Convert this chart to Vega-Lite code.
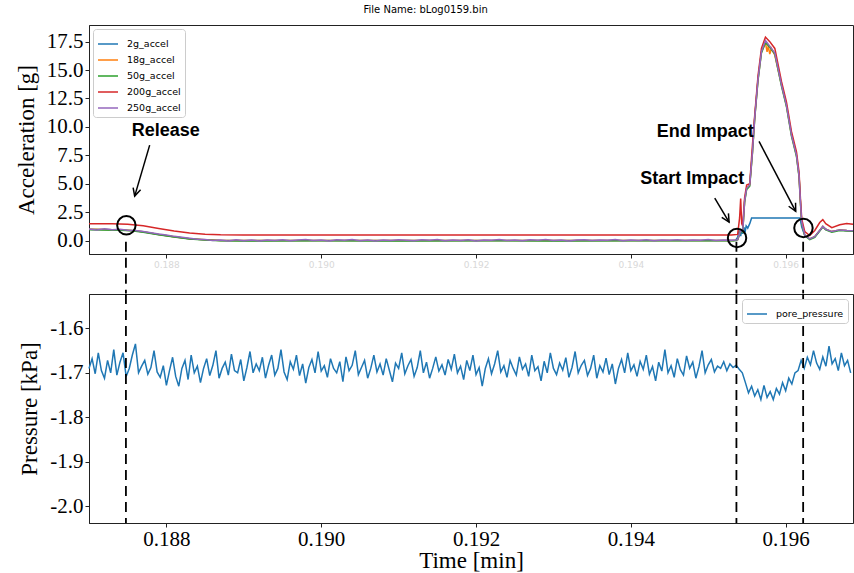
{
"$schema": "https://vega.github.io/schema/vega-lite/v6.json",
"padding": {"left": 14, "top": 4, "right": 0, "bottom": 0},
"title": {"text": "File Name: bLog0159.bin", "font": "DejaVu Sans", "fontSize": 10, "fontWeight": "normal", "color": "black", "anchor": "middle", "offset": 10, "dx": -10},
"config": {
  "view": {"stroke": "#222", "strokeWidth": 1},
  "axis": {"labelFont": "Liberation Serif", "labelFontSize": 21, "titleFont": "Liberation Serif", "titleFontSize": 23, "titleFontWeight": "normal", "labelColor": "black", "titleColor": "black", "domainColor": "#222", "tickColor": "#222", "tickSize": 4, "labelPadding": 2, "grid": false, "labelFlush": false, "labelOverlap": false, "titlePadding": 8}
},
"spacing": 40,
"bounds": "flush",
"resolve": {"scale": {"color": "independent"}, "legend": {"color": "independent"}},
"datasets": {
  "accel": [
    {"t":0.187,"s":"2g_accel","a":1.0},{"t":0.1872,"s":"2g_accel","a":0.98},{"t":0.1874,"s":"2g_accel","a":0.95},{"t":0.18755,"s":"2g_accel","a":0.9},{"t":0.1877,"s":"2g_accel","a":0.78},{"t":0.1879,"s":"2g_accel","a":0.55},{"t":0.1881,"s":"2g_accel","a":0.35},{"t":0.1883,"s":"2g_accel","a":0.18},{"t":0.1885,"s":"2g_accel","a":0.08},{"t":0.1887,"s":"2g_accel","a":0.02},{"t":0.189,"s":"2g_accel","a":0.01},{"t":0.19,"s":"2g_accel","a":0.02},{"t":0.191,"s":"2g_accel","a":0.01},{"t":0.192,"s":"2g_accel","a":0.02},{"t":0.193,"s":"2g_accel","a":0.01},{"t":0.194,"s":"2g_accel","a":0.02},{"t":0.19533,"s":"2g_accel","a":0.02},
    {"t":0.195355,"s":"2g_accel","a":0.05},{"t":0.19538,"s":"2g_accel","a":0.3},{"t":0.1954,"s":"2g_accel","a":0.9},{"t":0.195419,"s":"2g_accel","a":0.4},{"t":0.195432,"s":"2g_accel","a":1.0},{"t":0.195445,"s":"2g_accel","a":0.6},{"t":0.19546,"s":"2g_accel","a":1.2},{"t":0.195475,"s":"2g_accel","a":0.7},{"t":0.19549,"s":"2g_accel","a":1.3},{"t":0.19551,"s":"2g_accel","a":1.1},{"t":0.195536,"s":"2g_accel","a":1.5},{"t":0.19556,"s":"2g_accel","a":2.0},{"t":0.196185,"s":"2g_accel","a":2.0},{"t":0.196208,"s":"2g_accel","a":1.2},{"t":0.196247,"s":"2g_accel","a":0.45},{"t":0.196311,"s":"2g_accel","a":0.15},{"t":0.196376,"s":"2g_accel","a":0.35},{"t":0.19644,"s":"2g_accel","a":0.9},{"t":0.19648,"s":"2g_accel","a":1.25},{"t":0.196518,"s":"2g_accel","a":1.0},{"t":0.196596,"s":"2g_accel","a":0.8},{"t":0.196699,"s":"2g_accel","a":0.95},{"t":0.196789,"s":"2g_accel","a":0.9},{"t":0.19687,"s":"2g_accel","a":0.88},

    {"t":0.187,"s":"18g_accel","a":1.0},{"t":0.1872,"s":"18g_accel","a":0.98},{"t":0.1874,"s":"18g_accel","a":0.95},{"t":0.18755,"s":"18g_accel","a":0.9},{"t":0.1877,"s":"18g_accel","a":0.78},{"t":0.1879,"s":"18g_accel","a":0.55},{"t":0.1881,"s":"18g_accel","a":0.35},{"t":0.1883,"s":"18g_accel","a":0.18},{"t":0.1885,"s":"18g_accel","a":0.08},{"t":0.1887,"s":"18g_accel","a":0.02},{"t":0.189,"s":"18g_accel","a":0.01},{"t":0.19,"s":"18g_accel","a":0.02},{"t":0.191,"s":"18g_accel","a":0.01},{"t":0.192,"s":"18g_accel","a":0.02},{"t":0.193,"s":"18g_accel","a":0.01},{"t":0.194,"s":"18g_accel","a":0.02},{"t":0.19533,"s":"18g_accel","a":0.02},
    {"t":0.195355,"s":"18g_accel","a":0.05},{"t":0.19538,"s":"18g_accel","a":0.1},{"t":0.195419,"s":"18g_accel","a":0.9},{"t":0.195445,"s":"18g_accel","a":0.8},{"t":0.19547,"s":"18g_accel","a":3.5},{"t":0.195496,"s":"18g_accel","a":4.6},{"t":0.195536,"s":"18g_accel","a":4.9},{"t":0.195571,"s":"18g_accel","a":7.8},{"t":0.1956,"s":"18g_accel","a":10.8},{"t":0.195643,"s":"18g_accel","a":14.2},{"t":0.195687,"s":"18g_accel","a":16.6},{"t":0.195739,"s":"18g_accel","a":17.4},{"t":0.19576,"s":"18g_accel","a":16.6},{"t":0.195775,"s":"18g_accel","a":17.1},{"t":0.195795,"s":"18g_accel","a":16.4},{"t":0.195815,"s":"18g_accel","a":16.9},{"t":0.19586,"s":"18g_accel","a":16.3},{"t":0.195946,"s":"18g_accel","a":13.7},{"t":0.19601,"s":"18g_accel","a":11.9},{"t":0.196075,"s":"18g_accel","a":9.3},{"t":0.19614,"s":"18g_accel","a":7.5},{"t":0.196173,"s":"18g_accel","a":5.7},{"t":0.196191,"s":"18g_accel","a":3.4},{"t":0.196208,"s":"18g_accel","a":1.6},{"t":0.196247,"s":"18g_accel","a":0.5},{"t":0.196311,"s":"18g_accel","a":0.15},{"t":0.196376,"s":"18g_accel","a":0.35},{"t":0.19644,"s":"18g_accel","a":0.9},{"t":0.19648,"s":"18g_accel","a":1.25},{"t":0.196518,"s":"18g_accel","a":1.0},{"t":0.196596,"s":"18g_accel","a":0.8},{"t":0.196699,"s":"18g_accel","a":0.95},{"t":0.196789,"s":"18g_accel","a":0.9},{"t":0.19687,"s":"18g_accel","a":0.88},

    {"t":0.187,"s":"50g_accel","a":0.97},{"t":0.1872,"s":"50g_accel","a":0.95},{"t":0.1874,"s":"50g_accel","a":0.92},{"t":0.18755,"s":"50g_accel","a":0.87},{"t":0.1877,"s":"50g_accel","a":0.75},{"t":0.1879,"s":"50g_accel","a":0.52},{"t":0.1881,"s":"50g_accel","a":0.32},{"t":0.1883,"s":"50g_accel","a":0.15},{"t":0.1885,"s":"50g_accel","a":0.05},{"t":0.1887,"s":"50g_accel","a":-0.01},{"t":0.189,"s":"50g_accel","a":-0.02},{"t":0.19,"s":"50g_accel","a":-0.01},{"t":0.191,"s":"50g_accel","a":-0.02},{"t":0.192,"s":"50g_accel","a":-0.01},{"t":0.193,"s":"50g_accel","a":-0.02},{"t":0.194,"s":"50g_accel","a":-0.01},{"t":0.19533,"s":"50g_accel","a":-0.01},
    {"t":0.195355,"s":"50g_accel","a":0.02},{"t":0.19538,"s":"50g_accel","a":0.08},{"t":0.195419,"s":"50g_accel","a":0.85},{"t":0.195445,"s":"50g_accel","a":0.75},{"t":0.19547,"s":"50g_accel","a":3.4},{"t":0.195496,"s":"50g_accel","a":4.5},{"t":0.195536,"s":"50g_accel","a":4.8},{"t":0.195571,"s":"50g_accel","a":7.7},{"t":0.1956,"s":"50g_accel","a":10.7},{"t":0.195643,"s":"50g_accel","a":14.1},{"t":0.195687,"s":"50g_accel","a":16.5},{"t":0.195739,"s":"50g_accel","a":17.4},{"t":0.195795,"s":"50g_accel","a":17.0},{"t":0.19586,"s":"50g_accel","a":16.4},{"t":0.195946,"s":"50g_accel","a":13.6},{"t":0.19601,"s":"50g_accel","a":11.8},{"t":0.196075,"s":"50g_accel","a":9.2},{"t":0.19614,"s":"50g_accel","a":7.4},{"t":0.196173,"s":"50g_accel","a":5.6},{"t":0.196191,"s":"50g_accel","a":3.3},{"t":0.196208,"s":"50g_accel","a":1.5},{"t":0.196247,"s":"50g_accel","a":0.45},{"t":0.196311,"s":"50g_accel","a":0.1},{"t":0.196376,"s":"50g_accel","a":0.3},{"t":0.19644,"s":"50g_accel","a":0.85},{"t":0.19648,"s":"50g_accel","a":1.2},{"t":0.196518,"s":"50g_accel","a":0.95},{"t":0.196596,"s":"50g_accel","a":0.75},{"t":0.196699,"s":"50g_accel","a":0.9},{"t":0.196789,"s":"50g_accel","a":0.85},{"t":0.19687,"s":"50g_accel","a":0.83},

    {"t":0.187,"s":"200g_accel","a":1.5},{"t":0.1873,"s":"200g_accel","a":1.5},{"t":0.1875,"s":"200g_accel","a":1.45},{"t":0.1877,"s":"200g_accel","a":1.32},{"t":0.1879,"s":"200g_accel","a":1.08},{"t":0.1881,"s":"200g_accel","a":0.85},{"t":0.1883,"s":"200g_accel","a":0.68},{"t":0.1885,"s":"200g_accel","a":0.57},{"t":0.1887,"s":"200g_accel","a":0.52},{"t":0.189,"s":"200g_accel","a":0.5},{"t":0.1953,"s":"200g_accel","a":0.5},
    {"t":0.19538,"s":"200g_accel","a":0.55},{"t":0.195405,"s":"200g_accel","a":2.0},{"t":0.195419,"s":"200g_accel","a":3.7},{"t":0.195432,"s":"200g_accel","a":1.5},{"t":0.195445,"s":"200g_accel","a":1.3},{"t":0.19547,"s":"200g_accel","a":3.8},{"t":0.195496,"s":"200g_accel","a":4.9},{"t":0.195536,"s":"200g_accel","a":5.0},{"t":0.195571,"s":"200g_accel","a":8.4},{"t":0.1956,"s":"200g_accel","a":11.0},{"t":0.195643,"s":"200g_accel","a":14.5},{"t":0.195687,"s":"200g_accel","a":16.9},{"t":0.195739,"s":"200g_accel","a":17.9},{"t":0.195795,"s":"200g_accel","a":17.5},{"t":0.19586,"s":"200g_accel","a":16.9},{"t":0.195946,"s":"200g_accel","a":14.0},{"t":0.19601,"s":"200g_accel","a":12.2},{"t":0.196075,"s":"200g_accel","a":9.6},{"t":0.19614,"s":"200g_accel","a":7.8},{"t":0.196173,"s":"200g_accel","a":6.0},{"t":0.196191,"s":"200g_accel","a":3.7},{"t":0.196208,"s":"200g_accel","a":1.9},{"t":0.196247,"s":"200g_accel","a":0.8},{"t":0.196311,"s":"200g_accel","a":0.45},{"t":0.196376,"s":"200g_accel","a":0.9},{"t":0.19644,"s":"200g_accel","a":1.6},{"t":0.19648,"s":"200g_accel","a":1.85},{"t":0.196518,"s":"200g_accel","a":1.5},{"t":0.196596,"s":"200g_accel","a":1.15},{"t":0.196699,"s":"200g_accel","a":1.4},{"t":0.196789,"s":"200g_accel","a":1.5},{"t":0.19687,"s":"200g_accel","a":1.45},

    {"t":0.187,"s":"250g_accel","a":1.02},{"t":0.1871,"s":"250g_accel","a":0.95},{"t":0.1872,"s":"250g_accel","a":1.05},{"t":0.1873,"s":"250g_accel","a":0.97},{"t":0.1874,"s":"250g_accel","a":1.0},{"t":0.1875,"s":"250g_accel","a":0.92},{"t":0.1876,"s":"250g_accel","a":0.9},{"t":0.1877,"s":"250g_accel","a":0.8},{"t":0.1878,"s":"250g_accel","a":0.7},{"t":0.1879,"s":"250g_accel","a":0.58},{"t":0.188,"s":"250g_accel","a":0.5},{"t":0.1881,"s":"250g_accel","a":0.38},{"t":0.1882,"s":"250g_accel","a":0.3},{"t":0.1883,"s":"250g_accel","a":0.22},{"t":0.1884,"s":"250g_accel","a":0.12},{"t":0.1885,"s":"250g_accel","a":0.1},{"t":0.1886,"s":"250g_accel","a":0.02},{"t":0.1887,"s":"250g_accel","a":0.05},{"t":0.1888,"s":"250g_accel","a":-0.02},{"t":0.1889,"s":"250g_accel","a":0.08},
    {"t":0.189,"s":"250g_accel","a":0.0},{"t":0.1891,"s":"250g_accel","a":0.06},{"t":0.1892,"s":"250g_accel","a":-0.03},{"t":0.1893,"s":"250g_accel","a":0.07},{"t":0.1894,"s":"250g_accel","a":0.02},{"t":0.1895,"s":"250g_accel","a":0.09},{"t":0.1896,"s":"250g_accel","a":-0.01},{"t":0.1897,"s":"250g_accel","a":0.05},{"t":0.1898,"s":"250g_accel","a":0.1},{"t":0.1899,"s":"250g_accel","a":0.01},
    {"t":0.19,"s":"250g_accel","a":0.06},{"t":0.1901,"s":"250g_accel","a":-0.02},{"t":0.1902,"s":"250g_accel","a":0.08},{"t":0.1903,"s":"250g_accel","a":0.03},{"t":0.1904,"s":"250g_accel","a":0.11},{"t":0.1905,"s":"250g_accel","a":0.0},{"t":0.1906,"s":"250g_accel","a":0.05},{"t":0.1907,"s":"250g_accel","a":-0.03},{"t":0.1908,"s":"250g_accel","a":0.07},{"t":0.1909,"s":"250g_accel","a":0.02},
    {"t":0.191,"s":"250g_accel","a":0.09},{"t":0.1911,"s":"250g_accel","a":0.04},{"t":0.1912,"s":"250g_accel","a":-0.01},{"t":0.1913,"s":"250g_accel","a":0.08},{"t":0.1914,"s":"250g_accel","a":0.03},{"t":0.1915,"s":"250g_accel","a":0.1},{"t":0.1916,"s":"250g_accel","a":0.0},{"t":0.1917,"s":"250g_accel","a":0.06},{"t":0.1918,"s":"250g_accel","a":0.02},{"t":0.1919,"s":"250g_accel","a":0.09},
    {"t":0.192,"s":"250g_accel","a":-0.02},{"t":0.1921,"s":"250g_accel","a":0.07},{"t":0.1922,"s":"250g_accel","a":0.04},{"t":0.1923,"s":"250g_accel","a":0.11},{"t":0.1924,"s":"250g_accel","a":0.01},{"t":0.1925,"s":"250g_accel","a":0.06},{"t":0.1926,"s":"250g_accel","a":-0.01},{"t":0.1927,"s":"250g_accel","a":0.08},{"t":0.1928,"s":"250g_accel","a":0.03},{"t":0.1929,"s":"250g_accel","a":0.1},
    {"t":0.193,"s":"250g_accel","a":0.02},{"t":0.1931,"s":"250g_accel","a":0.07},{"t":0.1932,"s":"250g_accel","a":-0.02},{"t":0.1933,"s":"250g_accel","a":0.05},{"t":0.1934,"s":"250g_accel","a":0.09},{"t":0.1935,"s":"250g_accel","a":0.01},{"t":0.1936,"s":"250g_accel","a":0.06},{"t":0.1937,"s":"250g_accel","a":0.03},{"t":0.1938,"s":"250g_accel","a":0.1},{"t":0.1939,"s":"250g_accel","a":0.0},
    {"t":0.194,"s":"250g_accel","a":0.07},{"t":0.1941,"s":"250g_accel","a":0.02},{"t":0.1942,"s":"250g_accel","a":0.08},{"t":0.1943,"s":"250g_accel","a":-0.01},{"t":0.1944,"s":"250g_accel","a":0.06},{"t":0.1945,"s":"250g_accel","a":0.03},{"t":0.1946,"s":"250g_accel","a":0.09},{"t":0.1947,"s":"250g_accel","a":0.01},{"t":0.1948,"s":"250g_accel","a":0.07},{"t":0.1949,"s":"250g_accel","a":0.04},
    {"t":0.195,"s":"250g_accel","a":0.1},{"t":0.1951,"s":"250g_accel","a":0.02},{"t":0.1952,"s":"250g_accel","a":0.06},{"t":0.1953,"s":"250g_accel","a":0.03},
    {"t":0.195355,"s":"250g_accel","a":0.05},{"t":0.19538,"s":"250g_accel","a":0.1},{"t":0.195419,"s":"250g_accel","a":0.9},{"t":0.195445,"s":"250g_accel","a":0.8},{"t":0.19547,"s":"250g_accel","a":3.5},{"t":0.195496,"s":"250g_accel","a":4.6},{"t":0.195536,"s":"250g_accel","a":4.9},{"t":0.195571,"s":"250g_accel","a":7.8},{"t":0.1956,"s":"250g_accel","a":10.8},{"t":0.195643,"s":"250g_accel","a":14.2},{"t":0.195687,"s":"250g_accel","a":16.6},{"t":0.195739,"s":"250g_accel","a":17.6},{"t":0.195795,"s":"250g_accel","a":17.1},{"t":0.19586,"s":"250g_accel","a":16.5},{"t":0.195946,"s":"250g_accel","a":13.7},{"t":0.19601,"s":"250g_accel","a":11.9},{"t":0.196075,"s":"250g_accel","a":9.3},{"t":0.19614,"s":"250g_accel","a":7.5},{"t":0.196173,"s":"250g_accel","a":5.7},{"t":0.196191,"s":"250g_accel","a":3.4},{"t":0.196208,"s":"250g_accel","a":1.6},{"t":0.196247,"s":"250g_accel","a":0.5},{"t":0.196311,"s":"250g_accel","a":0.15},{"t":0.196376,"s":"250g_accel","a":0.35},{"t":0.19644,"s":"250g_accel","a":0.9},{"t":0.19648,"s":"250g_accel","a":1.25},{"t":0.196518,"s":"250g_accel","a":1.0},{"t":0.196596,"s":"250g_accel","a":0.8},{"t":0.196699,"s":"250g_accel","a":0.95},{"t":0.196789,"s":"250g_accel","a":0.9},{"t":0.19687,"s":"250g_accel","a":0.88}
  ],
  "pressure": [
    {"t":0.187,"p":-1.690},{"t":0.18704,"p":-1.668},{"t":0.18708,"p":-1.702},{"t":0.18712,"p":-1.655},{"t":0.18716,"p":-1.695},{"t":0.1872,"p":-1.712},{"t":0.18724,"p":-1.672},{"t":0.18728,"p":-1.700},{"t":0.18732,"p":-1.648},{"t":0.18736,"p":-1.705},{"t":0.1874,"p":-1.676},{"t":0.18744,"p":-1.655},{"t":0.18748,"p":-1.708},{"t":0.18752,"p":-1.690},{"t":0.18756,"p":-1.660},{"t":0.1876,"p":-1.635},{"t":0.18764,"p":-1.700},{"t":0.18768,"p":-1.685},{"t":0.18772,"p":-1.672},{"t":0.18776,"p":-1.703},{"t":0.1878,"p":-1.688},{"t":0.18784,"p":-1.650},{"t":0.18788,"p":-1.698},{"t":0.18792,"p":-1.710},{"t":0.18796,"p":-1.684},
    {"t":0.188,"p":-1.728},{"t":0.18804,"p":-1.695},{"t":0.18808,"p":-1.665},{"t":0.18812,"p":-1.708},{"t":0.18816,"p":-1.730},{"t":0.1882,"p":-1.690},{"t":0.18824,"p":-1.672},{"t":0.18828,"p":-1.715},{"t":0.18832,"p":-1.660},{"t":0.18836,"p":-1.700},{"t":0.1884,"p":-1.685},{"t":0.18844,"p":-1.722},{"t":0.18848,"p":-1.690},{"t":0.18852,"p":-1.668},{"t":0.18856,"p":-1.706},{"t":0.1886,"p":-1.683},{"t":0.18864,"p":-1.650},{"t":0.18868,"p":-1.712},{"t":0.18872,"p":-1.690},{"t":0.18876,"p":-1.676},{"t":0.1888,"p":-1.705},{"t":0.18884,"p":-1.658},{"t":0.18888,"p":-1.695},{"t":0.18892,"p":-1.700},{"t":0.18896,"p":-1.670},
    {"t":0.189,"p":-1.718},{"t":0.18904,"p":-1.688},{"t":0.18908,"p":-1.652},{"t":0.18912,"p":-1.700},{"t":0.18916,"p":-1.680},{"t":0.1892,"p":-1.695},{"t":0.18924,"p":-1.665},{"t":0.18928,"p":-1.712},{"t":0.18932,"p":-1.683},{"t":0.18936,"p":-1.660},{"t":0.1894,"p":-1.705},{"t":0.18944,"p":-1.690},{"t":0.18948,"p":-1.648},{"t":0.18952,"p":-1.698},{"t":0.18956,"p":-1.715},{"t":0.1896,"p":-1.675},{"t":0.18964,"p":-1.692},{"t":0.18968,"p":-1.660},{"t":0.18972,"p":-1.706},{"t":0.18976,"p":-1.680},{"t":0.1898,"p":-1.723},{"t":0.18984,"p":-1.688},{"t":0.18988,"p":-1.670},{"t":0.18992,"p":-1.700},{"t":0.18996,"p":-1.652},
    {"t":0.19,"p":-1.696},{"t":0.19004,"p":-1.684},{"t":0.19008,"p":-1.710},{"t":0.19012,"p":-1.668},{"t":0.19016,"p":-1.690},{"t":0.1902,"p":-1.700},{"t":0.19024,"p":-1.675},{"t":0.19028,"p":-1.720},{"t":0.19032,"p":-1.664},{"t":0.19036,"p":-1.695},{"t":0.1904,"p":-1.683},{"t":0.19044,"p":-1.650},{"t":0.19048,"p":-1.704},{"t":0.19052,"p":-1.688},{"t":0.19056,"p":-1.672},{"t":0.1906,"p":-1.712},{"t":0.19064,"p":-1.690},{"t":0.19068,"p":-1.660},{"t":0.19072,"p":-1.698},{"t":0.19076,"p":-1.680},{"t":0.1908,"p":-1.705},{"t":0.19084,"p":-1.668},{"t":0.19088,"p":-1.694},{"t":0.19092,"p":-1.720},{"t":0.19096,"p":-1.678},
    {"t":0.191,"p":-1.690},{"t":0.19104,"p":-1.655},{"t":0.19108,"p":-1.702},{"t":0.19112,"p":-1.684},{"t":0.19116,"p":-1.670},{"t":0.1912,"p":-1.708},{"t":0.19124,"p":-1.688},{"t":0.19128,"p":-1.650},{"t":0.19132,"p":-1.700},{"t":0.19136,"p":-1.676},{"t":0.1914,"p":-1.712},{"t":0.19144,"p":-1.690},{"t":0.19148,"p":-1.664},{"t":0.19152,"p":-1.696},{"t":0.19156,"p":-1.682},{"t":0.1916,"p":-1.705},{"t":0.19164,"p":-1.670},{"t":0.19168,"p":-1.692},{"t":0.19172,"p":-1.658},{"t":0.19176,"p":-1.700},{"t":0.1918,"p":-1.685},{"t":0.19184,"p":-1.715},{"t":0.19188,"p":-1.672},{"t":0.19192,"p":-1.695},{"t":0.19196,"p":-1.660},
    {"t":0.192,"p":-1.704},{"t":0.19204,"p":-1.688},{"t":0.19208,"p":-1.730},{"t":0.19212,"p":-1.690},{"t":0.19216,"p":-1.668},{"t":0.1922,"p":-1.702},{"t":0.19224,"p":-1.680},{"t":0.19228,"p":-1.650},{"t":0.19232,"p":-1.698},{"t":0.19236,"p":-1.684},{"t":0.1924,"p":-1.710},{"t":0.19244,"p":-1.672},{"t":0.19248,"p":-1.690},{"t":0.19252,"p":-1.705},{"t":0.19256,"p":-1.664},{"t":0.1926,"p":-1.692},{"t":0.19264,"p":-1.680},{"t":0.19268,"p":-1.708},{"t":0.19272,"p":-1.660},{"t":0.19276,"p":-1.695},{"t":0.1928,"p":-1.686},{"t":0.19284,"p":-1.718},{"t":0.19288,"p":-1.674},{"t":0.19292,"p":-1.700},{"t":0.19296,"p":-1.655},
    {"t":0.193,"p":-1.690},{"t":0.19304,"p":-1.704},{"t":0.19308,"p":-1.678},{"t":0.19312,"p":-1.694},{"t":0.19316,"p":-1.666},{"t":0.1932,"p":-1.710},{"t":0.19324,"p":-1.688},{"t":0.19328,"p":-1.652},{"t":0.19332,"p":-1.700},{"t":0.19336,"p":-1.683},{"t":0.1934,"p":-1.672},{"t":0.19344,"p":-1.706},{"t":0.19348,"p":-1.690},{"t":0.19352,"p":-1.660},{"t":0.19356,"p":-1.712},{"t":0.1936,"p":-1.684},{"t":0.19364,"p":-1.698},{"t":0.19368,"p":-1.667},{"t":0.19372,"p":-1.704},{"t":0.19376,"p":-1.680},{"t":0.1938,"p":-1.725},{"t":0.19384,"p":-1.690},{"t":0.19388,"p":-1.670},{"t":0.19392,"p":-1.700},{"t":0.19396,"p":-1.655},
    {"t":0.194,"p":-1.695},{"t":0.19404,"p":-1.682},{"t":0.19408,"p":-1.708},{"t":0.19412,"p":-1.674},{"t":0.19416,"p":-1.692},{"t":0.1942,"p":-1.660},{"t":0.19424,"p":-1.703},{"t":0.19428,"p":-1.686},{"t":0.19432,"p":-1.718},{"t":0.19436,"p":-1.676},{"t":0.1944,"p":-1.696},{"t":0.19444,"p":-1.648},{"t":0.19448,"p":-1.700},{"t":0.19452,"p":-1.684},{"t":0.19456,"p":-1.710},{"t":0.1946,"p":-1.668},{"t":0.19464,"p":-1.693},{"t":0.19468,"p":-1.705},{"t":0.19472,"p":-1.662},{"t":0.19476,"p":-1.690},{"t":0.1948,"p":-1.676},{"t":0.19484,"p":-1.712},{"t":0.19488,"p":-1.686},{"t":0.19492,"p":-1.650},{"t":0.19496,"p":-1.700},
    {"t":0.195,"p":-1.682},{"t":0.19504,"p":-1.670},{"t":0.19508,"p":-1.698},{"t":0.19512,"p":-1.685},{"t":0.19516,"p":-1.690},{"t":0.1952,"p":-1.675},{"t":0.19524,"p":-1.695},{"t":0.19528,"p":-1.680},{"t":0.19532,"p":-1.688},{"t":0.19536,"p":-1.683},{"t":0.1954,"p":-1.692},{"t":0.19544,"p":-1.700},{"t":0.19548,"p":-1.722},{"t":0.19552,"p":-1.745},{"t":0.19556,"p":-1.730},{"t":0.1956,"p":-1.752},{"t":0.19564,"p":-1.738},{"t":0.19568,"p":-1.760},{"t":0.19572,"p":-1.728},{"t":0.19576,"p":-1.755},{"t":0.1958,"p":-1.742},{"t":0.19584,"p":-1.760},{"t":0.19588,"p":-1.735},{"t":0.19592,"p":-1.748},{"t":0.19596,"p":-1.722},
    {"t":0.196,"p":-1.740},{"t":0.19604,"p":-1.712},{"t":0.19608,"p":-1.725},{"t":0.19612,"p":-1.700},{"t":0.19616,"p":-1.695},{"t":0.1962,"p":-1.672},{"t":0.19624,"p":-1.690},{"t":0.19628,"p":-1.665},{"t":0.19632,"p":-1.682},{"t":0.19636,"p":-1.650},{"t":0.1964,"p":-1.678},{"t":0.19644,"p":-1.692},{"t":0.19648,"p":-1.664},{"t":0.19652,"p":-1.685},{"t":0.19656,"p":-1.640},{"t":0.1966,"p":-1.680},{"t":0.19664,"p":-1.668},{"t":0.19668,"p":-1.695},{"t":0.19672,"p":-1.655},{"t":0.19676,"p":-1.684},{"t":0.1968,"p":-1.672},{"t":0.19684,"p":-1.700}
  ],
  "vlines": [{"t":0.187477,"a":-0.1,"a2":-4.65},{"t":0.195364,"a":-0.1,"a2":-4.65},{"t":0.196226,"a":-0.1,"a2":-4.65}],
  "circles": [{"t":0.187483,"a":1.35},{"t":0.195372,"a":0.24},{"t":0.19623,"a":1.12}],
  "arrows": [{"t":0.187784,"a":8.4,"t2":0.18759,"a2":3.92,"ang":196.4},{"t":0.195084,"a":3.75,"t2":0.195269,"a2":1.64,"ang":149.2},{"t":0.195656,"a":8.73,"t2":0.19613,"a2":2.58,"ang":152.3}],
  "labels": [{"t":0.187991,"a":9.63,"label":"Release"},{"t":0.194793,"a":5.42,"label":"Start Impact"},{"t":0.194961,"a":9.54,"label":"End Impact"}]
},
"vconcat": [
  {
    "width": 764, "height": 229,
    "layer": [
      {
        "data": {"name": "accel"},
        "mark": {"type": "line", "strokeWidth": 1.5},
        "encoding": {
          "x": {"field": "t", "type": "quantitative", "title": null, "scale": {"domain": [0.187, 0.19687], "nice": false, "zero": false}, "axis": {"values": [0.188, 0.19, 0.192, 0.194, 0.196], "format": ".3f", "labelColor": "#d8d8d8", "labelFontSize": 9, "labelFont": "DejaVu Sans", "labelPadding": 2, "labelOverlap": false}},
          "y": {"field": "a", "type": "quantitative", "title": "Acceleration [g]", "scale": {"domain": [-1.17, 18.96], "nice": false, "zero": false}, "axis": {"values": [0, 2.5, 5, 7.5, 10, 12.5, 15, 17.5], "format": ".1f", "labelOverlap": false}},
          "color": {"field": "s", "type": "nominal", "scale": {"domain": ["2g_accel", "18g_accel", "50g_accel", "200g_accel", "250g_accel"], "range": ["#1f77b4", "#ff7f0e", "#2ca02c", "#d62728", "#9467bd"]},
            "legend": {"title": null, "orient": "top-left", "offset": 4, "fillColor": "white", "strokeColor": "#cccccc", "cornerRadius": 3, "padding": 4, "symbolType": "stroke", "symbolSize": 400, "symbolStrokeWidth": 1.5, "labelFont": "DejaVu Sans", "labelFontSize": 9.5, "labelColor": "black", "rowPadding": -8.2, "labelOffset": 8}}
        }
      },
      {
        "data": {"name": "vlines"},
        "mark": {"type": "rule", "strokeDash": [10, 6], "strokeWidth": 1.8, "color": "black"},
        "encoding": {
          "x": {"field": "t", "type": "quantitative", "title": null},
          "y": {"field": "a", "type": "quantitative", "title": "Acceleration [g]", "axis": {"values": [0, 2.5, 5, 7.5, 10, 12.5, 15, 17.5], "format": ".1f", "labelOverlap": false}},
          "y2": {"field": "a2"}
        }
      },
      {
        "data": {"name": "arrows"},
        "mark": {"type": "rule", "strokeWidth": 1.5, "color": "black"},
        "encoding": {
          "x": {"field": "t", "type": "quantitative", "title": null},
          "y": {"field": "a", "type": "quantitative", "title": "Acceleration [g]", "axis": {"values": [0, 2.5, 5, 7.5, 10, 12.5, 15, 17.5], "format": ".1f", "labelOverlap": false}},
          "x2": {"field": "t2"},
          "y2": {"field": "a2"}
        }
      },
      {
        "data": {"name": "arrows"},
        "mark": {"type": "point", "shape": "M-0.55,1.1L0,0L0.55,1.1", "filled": false, "stroke": "black", "strokeWidth": 1.5, "size": 200, "opacity": 1},
        "encoding": {
          "x": {"field": "t2", "type": "quantitative", "title": null},
          "y": {"field": "a2", "type": "quantitative", "title": "Acceleration [g]", "axis": {"values": [0, 2.5, 5, 7.5, 10, 12.5, 15, 17.5], "format": ".1f", "labelOverlap": false}},
          "angle": {"field": "ang", "type": "quantitative", "scale": null}
        }
      },
      {
        "data": {"name": "circles"},
        "mark": {"type": "point", "shape": "circle", "size": 340, "filled": false, "stroke": "black", "strokeWidth": 2, "opacity": 1},
        "encoding": {
          "x": {"field": "t", "type": "quantitative", "title": null},
          "y": {"field": "a", "type": "quantitative", "title": "Acceleration [g]", "axis": {"values": [0, 2.5, 5, 7.5, 10, 12.5, 15, 17.5], "format": ".1f", "labelOverlap": false}}
        }
      },
      {
        "data": {"name": "labels"},
        "mark": {"type": "text", "font": "Liberation Sans", "fontSize": 18, "fontWeight": "bold", "color": "black", "align": "center", "baseline": "middle"},
        "encoding": {
          "x": {"field": "t", "type": "quantitative", "title": null},
          "y": {"field": "a", "type": "quantitative", "title": "Acceleration [g]", "axis": {"values": [0, 2.5, 5, 7.5, 10, 12.5, 15, 17.5], "format": ".1f", "labelOverlap": false}},
          "text": {"field": "label"}
        }
      }
    ]
  },
  {
    "width": 764, "height": 229,
    "layer": [
      {
        "data": {"name": "pressure"},
        "mark": {"type": "line", "strokeWidth": 1.5},
        "encoding": {
          "x": {"field": "t", "type": "quantitative", "title": "Time [min]", "scale": {"domain": [0.187, 0.19687], "nice": false, "zero": false}, "axis": {"values": [0.188, 0.19, 0.192, 0.194, 0.196], "format": ".3f", "labelPadding": 1, "titlePadding": 0, "labelOverlap": false}},
          "y": {"field": "p", "type": "quantitative", "title": "Pressure [kPa]", "scale": {"domain": [-2.0374, -1.5228], "nice": false, "zero": false}, "axis": {"values": [-2.0, -1.9, -1.8, -1.7, -1.6], "labelOverlap": false, "labelExpr": "replace(format(datum.value, '.1f'), '\u2212', '-')"}},
          "color": {"datum": "pore_pressure", "type": "nominal", "scale": {"range": ["#1f77b4"]},
            "legend": {"title": null, "orient": "top-right", "offset": 5, "fillColor": "white", "strokeColor": "#cccccc", "cornerRadius": 3, "padding": 4, "symbolType": "stroke", "symbolSize": 400, "symbolStrokeWidth": 1.5, "labelFont": "DejaVu Sans", "labelFontSize": 9.5, "labelColor": "black", "labelOffset": 8}}
        }
      },
      {
        "data": {"name": "vlines"},
        "mark": {"type": "rule", "strokeDash": [10, 6], "strokeWidth": 1.8, "color": "black"},
        "encoding": {
          "x": {"field": "t", "type": "quantitative", "title": "Time [min]"}
        }
      }
    ]
  }
]
}
